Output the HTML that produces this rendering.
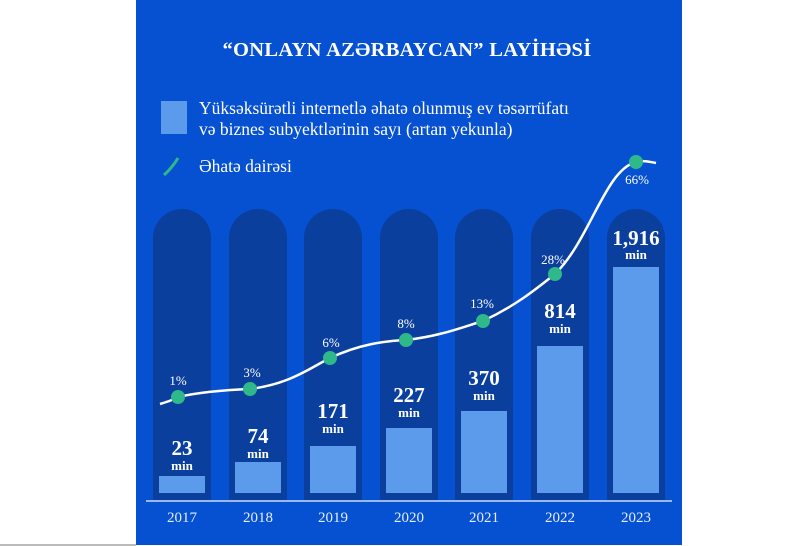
<!DOCTYPE html>
<html><head><meta charset="utf-8"><style>
body{margin:0;width:800px;height:546px;background:#fff;overflow:hidden;position:relative;font-family:"Liberation Serif",serif}
.panel{position:absolute;left:136px;top:0;width:546px;height:545px;background:#0650d2}
.bl{position:absolute;left:0;top:544px;width:136px;height:2px;background:#bbb}
</style></head><body>
<div class="bl"></div>
<div class="panel"></div>
<svg width="800" height="546" style="position:absolute;left:0;top:0" font-family="Liberation Serif, serif">
<text x="407" y="56" text-anchor="middle" fill="#fff" font-size="20.5" font-weight="bold" letter-spacing="0.3">“ONLAYN AZƏRBAYCAN” LAYİHƏSİ</text>
<rect x="161" y="101" width="26" height="33" fill="#5c9bec"/>
<text x="199" y="114" fill="#fff" font-size="17.5">Yüksəksürətli internetlə əhatə olunmuş ev təsərrüfatı</text>
<text x="199" y="135" fill="#fff" font-size="17.5">və biznes subyektlərinin sayı (artan yekunla)</text>
<path d="M164 175 Q172 168 178 158" stroke="#2fb98a" stroke-width="3" fill="none"/>
<text x="199" y="172" fill="#fff" font-size="17.5">Əhatə dairəsi</text>
<g fill="#0a3f9e">
<path d="M153 500V238a29 29 0 0 1 58 0V500z"/>
<path d="M229 500V238a29 29 0 0 1 58 0V500z"/>
<path d="M304 500V238a29 29 0 0 1 58 0V500z"/>
<path d="M380 500V238a29 29 0 0 1 58 0V500z"/>
<path d="M455 500V238a29 29 0 0 1 58 0V500z"/>
<path d="M531 500V238a29 29 0 0 1 58 0V500z"/>
<path d="M607 500V238a29 29 0 0 1 58 0V500z"/>
</g>
<g fill="#5c9bec">
<rect x="159" y="476" width="46" height="17"/>
<rect x="235" y="462" width="46" height="31"/>
<rect x="310" y="446" width="46" height="47"/>
<rect x="386" y="428" width="46" height="65"/>
<rect x="461" y="411" width="46" height="82"/>
<rect x="537" y="346" width="46" height="147"/>
<rect x="613" y="267" width="46" height="226"/>
</g>
<line x1="146" y1="501" x2="672" y2="501" stroke="#c9dcf7" stroke-width="1.5"/>
<g fill="#e6efff" font-size="15" text-anchor="middle">
<text x="182" y="522">2017</text><text x="258" y="522">2018</text><text x="333" y="522">2019</text><text x="409" y="522">2020</text><text x="484" y="522">2021</text><text x="560" y="522">2022</text><text x="636" y="522">2023</text>
</g>
<g fill="#fff" text-anchor="middle" font-weight="bold">
<text x="182" y="455" font-size="21">23</text><text x="182" y="470" font-size="13">min</text>
<text x="258" y="443" font-size="21">74</text><text x="258" y="458" font-size="13">min</text>
<text x="333" y="418" font-size="21">171</text><text x="333" y="433" font-size="13">min</text>
<text x="409" y="402" font-size="21">227</text><text x="409" y="417" font-size="13">min</text>
<text x="484" y="385" font-size="21">370</text><text x="484" y="400" font-size="13">min</text>
<text x="560" y="318" font-size="21">814</text><text x="560" y="333" font-size="13">min</text>
<text x="636" y="245" font-size="21">1,916</text><text x="636" y="259" font-size="13">min</text>
</g>
<path d="M160 404 C170 401 175 399 178 397 C200 392 225 390 250 389 C290 384 310 368 330 358 C360 344 385 341 406 340 C440 336 460 328 483 321 C515 306 535 290 555 274 C590 240 605 170 636 162 C645 160 650 162 656 163" stroke="#fff" stroke-width="2.5" fill="none"/>
<g fill="#2fb98a">
<circle cx="178" cy="397" r="7"/><circle cx="250" cy="389" r="7"/><circle cx="330" cy="358" r="7"/><circle cx="406" cy="340" r="7"/><circle cx="483" cy="321" r="7"/><circle cx="555" cy="274" r="7"/><circle cx="636" cy="162" r="7"/>
</g>
<g fill="#fff" font-size="13" text-anchor="middle">
<text x="178" y="385">1%</text><text x="252" y="377">3%</text><text x="331" y="347">6%</text><text x="406" y="328">8%</text><text x="482" y="308">13%</text><text x="553" y="264">28%</text><text x="637" y="184">66%</text>
</g>
</svg>
</body></html>
